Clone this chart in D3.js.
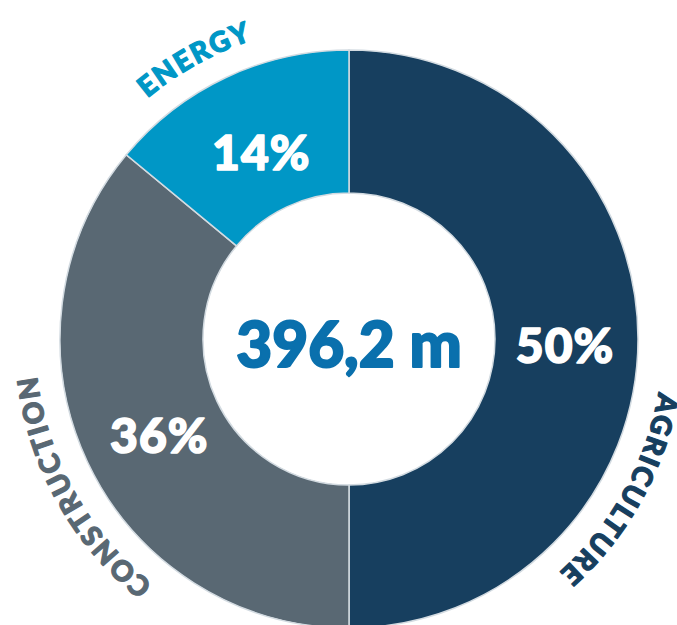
<!DOCTYPE html>
<html>
<head>
<meta charset="utf-8">
<script src="https://cdn.jsdelivr.net/npm/d3@7"></script>
<style>
  html, body { margin: 0; padding: 0; background: #fff; }
  svg { display: block; font-family: Lato, "Open Sans", sans-serif; }
</style>
</head>
<body>
<svg id="chart"></svg>
<script>
// chart data
const categories = ['Agriculture', 'Construction', 'Energy'];
const shares = [50, 36, 14];
const labels = ['AGRICULTURE', 'CONSTRUCTION', 'ENERGY'];
const totalLabel = '396,2 m';

const width = 677, height = 625;
const cx = 349, cy = 339;
const outerR = 289, innerR = 146;
const labelR = 314; // baseline radius of the curved names

const colors = { Agriculture: '#173f5f', Construction: '#596873', Energy: '#0097c6' };
// where each curved name is centred (degrees clockwise from 12 o'clock)
const labelAngle = { Agriculture: 119, Construction: 241, Energy: 331 };

const svg = d3.select('#chart')
  .attr('width', width)
  .attr('height', height);

const g = svg.append('g')
  .attr('transform', `translate(${cx}, ${cy})`);

const data = categories.map((c, i) => ({ cat: c, value: shares[i], label: labels[i] }));

const pie = d3.pie()
  .sort(null)
  .value(d => d.value);

const arc = d3.arc()
  .innerRadius(innerR)
  .outerRadius(outerR);

// percentages sit a bit inside the middle of the ring
const pctArc = d3.arc()
  .innerRadius(213)
  .outerRadius(213);

const arcs = pie(data);

g.selectAll('path.slice')
  .data(arcs)
  .enter()
  .append('path')
  .attr('class', 'slice')
  .attr('d', arc)
  .attr('fill', d => colors[d.data.cat])
  .attr('stroke', '#d3dbe1')
  .attr('stroke-width', 1.5);

// percentages (a thin stroke of the same colour makes Lato look heavier)
g.selectAll('text.pct')
  .data(arcs)
  .enter()
  .append('text')
  .attr('class', 'pct')
  .attr('transform', d => {
    const [x, y] = pctArc.centroid(d);
    return `translate(${x + 3}, ${y + 5})`;
  })
  .attr('text-anchor', 'middle')
  .attr('dominant-baseline', 'central')
  .style('font-size', '48px')
  .style('font-weight', 900)
  .style('letter-spacing', '1px')
  .style('fill', '#fff')
  .style('stroke', '#fff')
  .style('stroke-width', 1.6)
  .style('stroke-linejoin', 'round')
  .text(d => d.data.value + '%');

// centre total
g.append('text')
  .attr('y', 4)
  .attr('text-anchor', 'middle')
  .attr('dominant-baseline', 'central')
  .style('font-size', '62px')
  .style('font-weight', 900)
  .style('fill', '#0a70ad')
  .style('stroke', '#0a70ad')
  .style('stroke-width', 2)
  .style('stroke-linejoin', 'round')
  .text(totalLabel);

// circular guide path (clockwise from top) for the names
const circ = 2 * Math.PI * labelR;
svg.append('defs').append('path')
  .attr('id', 'labelCircle')
  .attr('d', `M 0 ${-labelR} A ${labelR} ${labelR} 0 1 1 0 ${labelR} A ${labelR} ${labelR} 0 1 1 0 ${-labelR}`);

g.selectAll('text.name')
  .data(arcs)
  .enter()
  .append('text')
  .attr('class', 'name')
  .style('font-size', '28px')
  .style('font-weight', 900)
  .style('letter-spacing', '2px')
  .style('fill', d => colors[d.data.cat])
  .style('stroke', d => colors[d.data.cat])
  .style('stroke-width', 1.2)
  .style('stroke-linejoin', 'round')
  .append('textPath')
  .attr('href', '#labelCircle')
  .attr('startOffset', d => (labelAngle[d.data.cat] / 360) * circ)
  .attr('text-anchor', 'middle')
  .text(d => d.data.label);
</script>
</body>
</html>
